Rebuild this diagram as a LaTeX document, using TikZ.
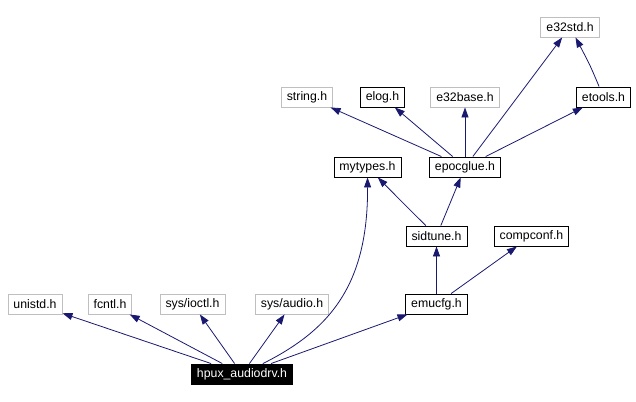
\documentclass[tikz,border=0pt]{standalone}
\usepackage{fontspec}
\setmainfont{Liberation Sans}
\usepackage{tikz}
\usetikzlibrary{arrows.meta}
\definecolor{edgeblue}{RGB}{25,25,112}
\definecolor{extgray}{RGB}{191,191,191}

\begin{document}
\begin{tikzpicture}[
    x=1pt, y=-1pt,
    header/.style={rectangle, draw=black, line width=0.9pt, fill=white, minimum height=20pt, inner xsep=5.5pt, inner ysep=0pt, text centered, font=\fontsize{12.3}{14}\selectfont},
    external/.style={header, draw=extgray},
    current/.style={header, fill=black, text=white},
    dep/.style={-{Triangle[length=10pt, width=7pt]}, edgeblue, line width=0.8pt}
]
    \useasboundingbox (0,0) rectangle (636,401);

    \node[external] (e32std) at (570,27) {e32std.h};
    \node[external] (string) at (307,97) {string.h};
    \node[header] (elog) at (382.5,97) {elog.h};
    \node[external] (e32base) at (465,97) {e32base.h};
    \node[header] (etools) at (603.5,97) {etools.h};
    \node[header] (mytypes) at (367.5,167) {mytypes.h};
    \node[header] (epocglue) at (465,167) {epocglue.h};
    \node[header] (sidtune) at (436.5,236) {sidtune.h};
    \node[header] (compconf) at (531.5,236) {compconf.h};
    \node[external] (unistd) at (35,304) {unistd.h};
    \node[external] (fcntl) at (110,304) {fcntl.h};
    \node[external] (ioctl) at (192.5,304) {sys/ioctl.h};
    \node[external] (audio) at (292,304) {sys/audio.h};
    \node[header] (emucfg) at (436.5,304) {emucfg.h};
    \node[current] (hpux) at (242,374) {hpux\_audiodrv.h};

    \draw[dep] (hpux) -- (unistd);
    \draw[dep] (hpux) -- (fcntl);
    \draw[dep] (hpux) -- (ioctl);
    \draw[dep] (hpux) -- (audio);
    \draw[dep] (hpux) .. controls (330,330) and (368,285) .. (mytypes);
    \draw[dep] (hpux) -- (emucfg);
    \draw[dep] (emucfg) -- (sidtune);
    \draw[dep] (emucfg) -- (compconf);
    \draw[dep] (sidtune) .. controls (410,210) .. (mytypes);
    \draw[dep] (sidtune) -- (epocglue);
    \draw[dep] (epocglue) -- (string);
    \draw[dep] (epocglue) -- (elog);
    \draw[dep] (epocglue) -- (e32base);
    \draw[dep] (epocglue) -- (e32std);
    \draw[dep] (epocglue) -- (etools);
    \draw[dep] (etools) .. controls (590,65) .. (e32std);
\end{tikzpicture}
\end{document}
